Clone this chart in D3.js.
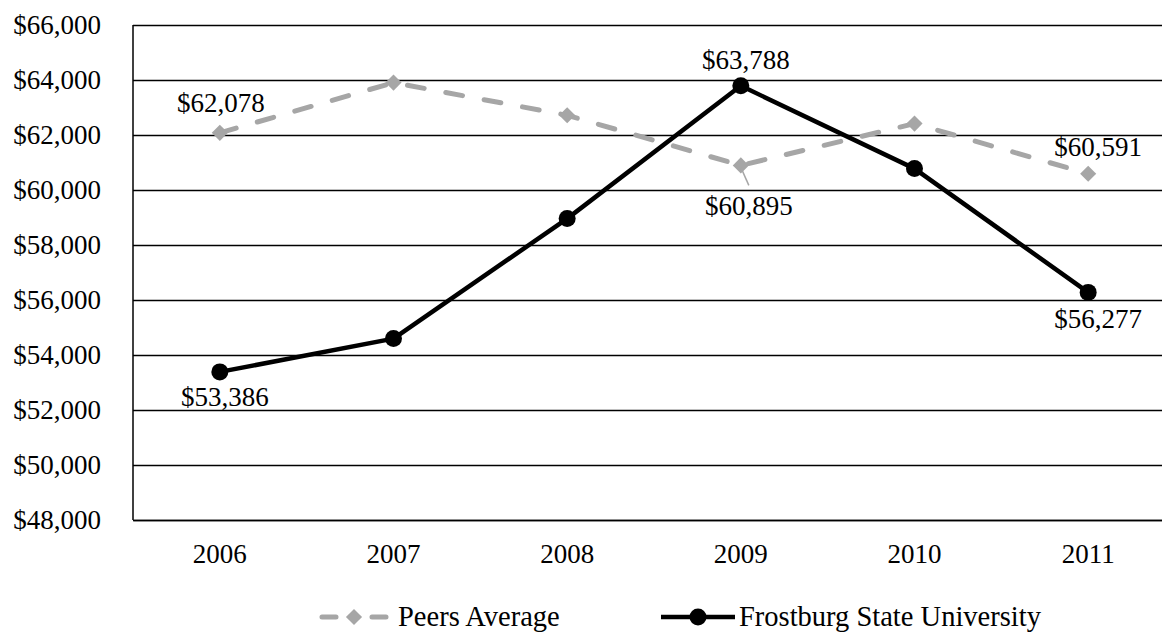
<!DOCTYPE html>
<html>
<head>
<meta charset="utf-8">
<script src="https://cdn.jsdelivr.net/npm/d3@7/dist/d3.min.js"></script>
<style>
  html, body { margin: 0; padding: 0; background: #fff; }
  svg { display: block; }
  text { font-family: "Liberation Serif", "Times New Roman", serif; fill: #000; }
</style>
</head>
<body>
<svg id="chart" width="1162" height="632"></svg>
<script>
// Average salary by year, Frostburg State University vs. its peer group
const years = ["2006", "2007", "2008", "2009", "2010", "2011"];
const peersAverage = [62078, 63905, 62716, 60895, 62415, 60591];
const frostburg = [53386, 54596, 58960, 63788, 60778, 56277];
const yTicks = [48000, 50000, 52000, 54000, 56000, 58000, 60000, 62000, 64000, 66000];
const seriesNames = ["Peers Average", "Frostburg State University"];

// Which points carry a value label, and where each label sits relative to its point
const peersLabelPlacement = [
  { i: 0, dx: 1, dy: -21 },
  { i: 3, dx: 8, dy: 50, leader: true },
  { i: 5, dx: 10, dy: -18 }
];
const frostLabelPlacement = [
  { i: 0, dx: 5, dy: 34 },
  { i: 3, dx: 5, dy: -17 },
  { i: 5, dx: 10, dy: 36 }
];

const svg = d3.select("#chart");
const plot = { left: 133, right: 1175, top: 25, bottom: 520 };
const fontSize = 27;
const legendFontSize = 28.5;
const grey = "#a6a6a6";

const x = d3.scaleBand().domain(years).range([plot.left, plot.right]).padding(0);
const cx = d => x(d) + x.bandwidth() / 2;
const y = d3.scaleLinear().domain([48000, 66000]).range([plot.bottom, plot.top]);
const money = v => "$" + d3.format(",")(v);

// Horizontal gridlines with value labels
const yAxis = d3.axisLeft(y).tickValues(yTicks).tickFormat(money)
  .tickSize(-(plot.right - plot.left)).tickPadding(32);
const gy = svg.append("g").attr("transform", `translate(${plot.left},0)`).call(yAxis);
gy.attr("font-family", null);
gy.select(".domain").remove();
gy.selectAll(".tick line").attr("stroke", "#000").attr("stroke-width", 1.4);
gy.selectAll(".tick text")
  .attr("font-size", fontSize)
  .attr("fill", "#000");

// Left axis line
svg.append("line")
  .attr("x1", plot.left).attr("x2", plot.left)
  .attr("y1", y(66000)).attr("y2", y(48000))
  .attr("stroke", "#000").attr("stroke-width", 1.5);

// Category axis
const xAxis = d3.axisBottom(x).tickSize(0).tickPadding(24);
const gx = svg.append("g").attr("transform", `translate(0,${plot.bottom})`).call(xAxis);
gx.attr("font-family", null);
gx.select(".domain").attr("stroke", "#000").attr("stroke-width", 1.5);
gx.selectAll(".tick text")
  .attr("font-size", fontSize)
  .attr("fill", "#000");

const line = d3.line().x((d, i) => cx(years[i])).y(d => y(d));
const diamond = d3.symbol().type(d3.symbolSquare).size(130);

// Peers average: grey dashed line with diamond markers
svg.append("path")
  .datum(peersAverage)
  .attr("d", line)
  .attr("fill", "none")
  .attr("stroke", grey)
  .attr("stroke-width", 5)
  .attr("stroke-linecap", "round")
  .attr("stroke-dasharray", "17,22");

svg.append("g").selectAll("path")
  .data(peersAverage)
  .join("path")
  .attr("d", diamond)
  .attr("transform", (d, i) => `translate(${cx(years[i])},${y(d)}) rotate(45)`)
  .attr("fill", grey);

// Frostburg State University: solid black line with round markers
svg.append("path")
  .datum(frostburg)
  .attr("d", line)
  .attr("fill", "none")
  .attr("stroke", "#000")
  .attr("stroke-width", 4.5)
  .attr("stroke-linejoin", "round");

svg.append("g").selectAll("circle")
  .data(frostburg)
  .join("circle")
  .attr("cx", (d, i) => cx(years[i]))
  .attr("cy", d => y(d))
  .attr("r", 8.5)
  .attr("fill", "#000");

// Value labels
function drawLabels(values, placement) {
  placement.forEach(p => {
    const px = cx(years[p.i]);
    const py = y(values[p.i]);
    if (p.leader) {
      svg.append("line")
        .attr("x1", px).attr("y1", py + 2)
        .attr("x2", px + p.dx).attr("y2", py + p.dy - 30)
        .attr("stroke", grey).attr("stroke-width", 1.5);
    }
    svg.append("text")
      .attr("x", px + p.dx)
      .attr("y", py + p.dy)
      .attr("text-anchor", "middle")
      .attr("font-size", fontSize)
      .text(money(values[p.i]));
  });
}
drawLabels(peersAverage, peersLabelPlacement);
drawLabels(frostburg, frostLabelPlacement);

// Legend
const legendY = 617;
const lg = svg.append("g");
// Peers Average entry: short grey dashes either side of a diamond
lg.append("line")
  .attr("x1", 322).attr("x2", 386).attr("y1", legendY).attr("y2", legendY)
  .attr("stroke", grey).attr("stroke-width", 5)
  .attr("stroke-linecap", "round")
  .attr("stroke-dasharray", "14,36,14");
lg.append("path")
  .attr("d", diamond)
  .attr("transform", `translate(354,${legendY}) rotate(45)`)
  .attr("fill", grey);
lg.append("text")
  .attr("x", 398).attr("y", legendY + 9)
  .attr("font-size", legendFontSize)
  .text(seriesNames[0]);
// Frostburg entry
lg.append("line")
  .attr("x1", 661).attr("x2", 735).attr("y1", legendY).attr("y2", legendY)
  .attr("stroke", "#000").attr("stroke-width", 4.5);
lg.append("circle")
  .attr("cx", 698).attr("cy", legendY).attr("r", 8.5)
  .attr("fill", "#000");
lg.append("text")
  .attr("x", 739).attr("y", legendY + 9)
  .attr("font-size", legendFontSize)
  .text(seriesNames[1]);
</script>
</body>
</html>
